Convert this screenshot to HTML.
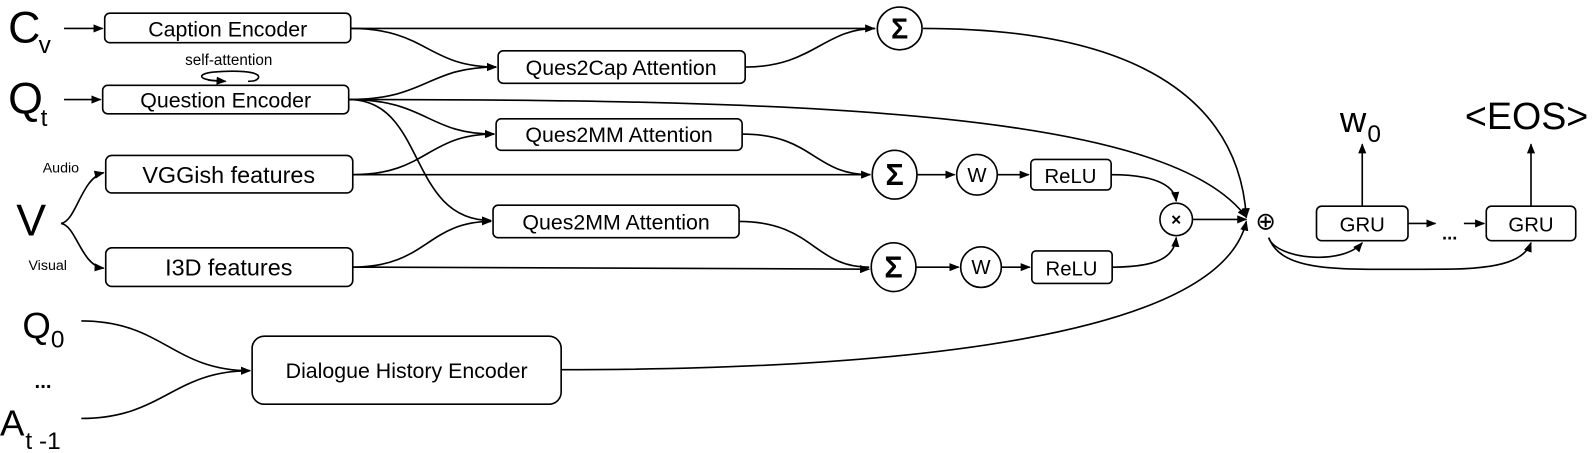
<!DOCTYPE html>
<html><head><meta charset="utf-8"><style>
html,body{margin:0;padding:0;background:#fff;}
svg{display:block;}
text{font-family:"Liberation Sans",Arial,sans-serif;fill:#000;}
</style></head><body>
<svg width="1592" height="453" viewBox="0 0 1566 446" preserveAspectRatio="none" xmlns="http://www.w3.org/2000/svg">
<defs>
<marker id="a" markerWidth="10" markerHeight="8" refX="9" refY="4" orient="auto" markerUnits="userSpaceOnUse">
<path d="M0,0 L10,4 L0,8 z" fill="#000"/></marker>
</defs>
<g fill="none" stroke="#000" stroke-width="1.6">
<rect x="103" y="13" width="242" height="29" rx="5"/>
<rect x="101" y="84" width="242" height="28" rx="5"/>
<rect x="104" y="153" width="243" height="37" rx="6"/>
<rect x="104" y="244" width="243" height="38" rx="6"/>
<rect x="248" y="331" width="304" height="67" rx="12"/>
<rect x="490" y="50" width="243" height="32" rx="5"/>
<rect x="488" y="117" width="242" height="31" rx="5"/>
<rect x="485" y="202" width="242" height="32" rx="5"/>
<rect x="1014" y="157" width="79" height="30" rx="4"/>
<rect x="1015" y="247" width="79" height="32" rx="4"/>
<rect x="1295" y="203" width="90" height="34" rx="5"/>
<rect x="1462" y="203" width="88" height="34" rx="5"/>
<ellipse cx="885" cy="28" rx="22" ry="21"/>
<ellipse cx="880" cy="172" rx="22" ry="24"/>
<ellipse cx="879" cy="263" rx="22" ry="24"/>
<circle cx="961" cy="172" r="20"/>
<circle cx="965" cy="263" r="20"/>
<circle cx="1157" cy="216" r="16"/>
<path d="M63,28 H101" marker-end="url(#a)"/>
<path d="M63,98 H99" marker-end="url(#a)"/>
<path d="M60,220 C75,218 80,175 102,170" marker-end="url(#a)"/>
<path d="M60,220 C75,222 80,262 102,264" marker-end="url(#a)"/>
<path d="M80,316 C160,316 170,365 246,365" marker-end="url(#a)"/>
<path d="M80,412 C160,412 170,365 246,365" marker-end="url(#a)"/>
<path d="M218,80 C195,79 192,73 210,71 C230,69 258,70 254,77 C252,80 248,80 244,80"/>
<path d="M205,79 L222,80" marker-end="url(#a)"/>
<path d="M345,28 H860" marker-end="url(#a)"/>
<path d="M345,28 C420,28 420,66 488,66" marker-end="url(#a)"/>
<path d="M343,98 C420,98 420,66 488,66" marker-end="url(#a)"/>
<path d="M343,98 C420,98 420,132 486,132" marker-end="url(#a)"/>
<path d="M343,98 C420,98 400,217 483,217" marker-end="url(#a)"/>
<path d="M343,98 C800,98 1150,110 1226,214" marker-end="url(#a)"/>
<path d="M347,172 C420,172 420,132 486,132" marker-end="url(#a)"/>
<path d="M347,172 H856" marker-end="url(#a)"/>
<path d="M347,263 C420,263 420,218 483,218" marker-end="url(#a)"/>
<path d="M347,263 L855,265" marker-end="url(#a)"/>
<path d="M733,66 C800,66 810,28 861,28"/>
<path d="M730,132 C800,132 800,172 856,172"/>
<path d="M727,218 C800,218 800,263 855,263"/>
<path d="M908,28 C1150,28 1220,120 1226,214" marker-end="url(#a)"/>
<path d="M902,172 H939" marker-end="url(#a)"/>
<path d="M981,172 H1012" marker-end="url(#a)"/>
<path d="M901,263 H943" marker-end="url(#a)"/>
<path d="M985,263 H1013" marker-end="url(#a)"/>
<path d="M1093,172 C1130,172 1155,180 1157,198" marker-end="url(#a)"/>
<path d="M1094,263 C1135,263 1155,255 1157,234" marker-end="url(#a)"/>
<path d="M1173,216 H1226" marker-end="url(#a)"/>
<path d="M552,364 C900,364 1200,330 1226,218" marker-end="url(#a)"/>
<path d="M1340,203 V142" marker-end="url(#a)"/>
<path d="M1506,203 V142" marker-end="url(#a)"/>
<path d="M1385,220 H1412" marker-end="url(#a)"/>
<path d="M1440,220 H1460" marker-end="url(#a)"/>
<path d="M1248,234 C1255,255 1320,262 1340,239" marker-end="url(#a)"/>
<path d="M1248,234 C1262,270 1320,265 1420,265 C1480,265 1500,255 1506,239" marker-end="url(#a)"/>
</g>
<text x="224" y="36" font-size="21" text-anchor="middle">Caption Encoder</text>
<text x="222" y="106" font-size="21" text-anchor="middle">Question Encoder</text>
<text x="225" y="180" font-size="23" text-anchor="middle">VGGish features</text>
<text x="225" y="271" font-size="23" text-anchor="middle">I3D features</text>
<text x="400" y="372" font-size="21" text-anchor="middle">Dialogue History Encoder</text>
<text x="611" y="74" font-size="21" text-anchor="middle">Ques2Cap Attention</text>
<text x="609" y="140" font-size="21" text-anchor="middle">Ques2MM Attention</text>
<text x="606" y="226" font-size="21" text-anchor="middle">Ques2MM Attention</text>
<text x="1053" y="180" font-size="20" text-anchor="middle">ReLU</text>
<text x="1054" y="271" font-size="20" text-anchor="middle">ReLU</text>
<text x="1340" y="228" font-size="20" text-anchor="middle">GRU</text>
<text x="1506" y="228" font-size="20" text-anchor="middle">GRU</text>
<text x="961" y="179" font-size="20" text-anchor="middle">W</text>
<text x="965" y="270" font-size="20" text-anchor="middle">W</text>
<text x="885" y="38" font-size="28" text-anchor="middle" font-weight="bold">Σ</text>
<text x="880" y="182" font-size="30" text-anchor="middle" font-weight="bold">Σ</text>
<text x="879" y="273" font-size="30" text-anchor="middle" font-weight="bold">Σ</text>
<text x="1157" y="222" font-size="17" text-anchor="middle" font-weight="bold">×</text>
<text x="1245" y="226" font-size="24" text-anchor="middle">⊕</text>
<text x="1426" y="236" font-size="18" text-anchor="middle" font-weight="bold">...</text>
<text x="225" y="64" font-size="15" text-anchor="middle">self-attention</text>
<text x="42" y="170" font-size="14">Audio</text>
<text x="28" y="266" font-size="14">Visual</text>
<text x="8" y="42" font-size="44">C</text><text x="38" y="52" font-size="24">v</text>
<text x="8" y="112" font-size="44">Q</text><text x="40" y="124" font-size="24">t</text>
<text x="16" y="232" font-size="44">V</text>
<text x="22" y="333" font-size="36">Q</text><text x="50" y="342" font-size="24">0</text>
<text x="34" y="382" font-size="20" font-weight="bold">...</text>
<text x="0" y="429" font-size="36">A</text><text x="25" y="442" font-size="24">t -1</text>
<text x="1318" y="130" font-size="36">w</text><text x="1345" y="140" font-size="24">0</text>
<text x="1441" y="127" font-size="37">&lt;EOS&gt;</text>
</svg>
</body></html>
